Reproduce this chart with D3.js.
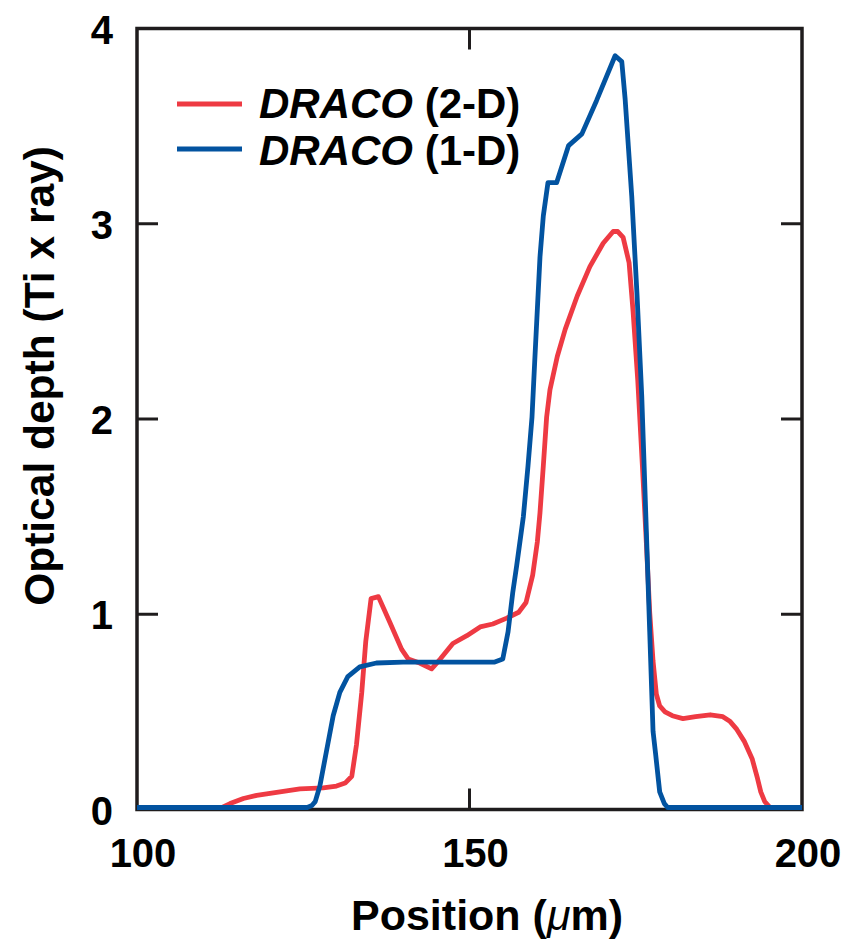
<!DOCTYPE html>
<html>
<head>
<meta charset="utf-8">
<script src="https://cdn.jsdelivr.net/npm/d3@7"></script>
<style>
  html, body { margin: 0; padding: 0; background: #fff; }
  svg { display: block; font-family: "Liberation Sans", Arial, Helvetica, sans-serif; }
</style>
</head>
<body>
<svg id="chart" width="865" height="940"></svg>
<script>
// ---- Data ----
const seriesNames = ["DRACO", "DRACO"];
const seriesSuffix = [" (2-D)", " (1-D)"];
const seriesColors = ["#ee3a43", "#0253a0"];

// DRACO (2-D): position (µm), optical depth
const pos2D = [100, 112.8, 114, 116, 118, 119.5, 122, 124.5, 128, 130, 131.3, 132.3, 133, 133.8, 134.4, 135.2, 136.3, 138, 139.8, 140.8, 142.5, 144.3, 145.6, 147.5, 149.6, 151.6, 153.5, 155.6, 157.4, 158.5, 159.5, 160.2, 160.6, 161.1, 161.6, 162.1, 163.2, 164.4, 166.2, 168.1, 170.1, 171.6, 172.3, 173.1, 174, 174.6, 175.3, 176.0, 176.6, 177.1, 177.6, 178.1, 178.6, 179.4, 180.5, 182.1, 184, 186.2, 188.1, 189.2, 190.2, 191.3, 192.5, 193.3, 193.8, 194.4, 195.2, 200];
const od2D  = [0, 0, 0.02, 0.046, 0.062, 0.07, 0.082, 0.095, 0.10, 0.11, 0.125, 0.16, 0.32, 0.59, 0.85, 1.07, 1.08, 0.95, 0.81, 0.76, 0.74, 0.71, 0.76, 0.84, 0.88, 0.925, 0.94, 0.97, 1.0, 1.05, 1.19, 1.36, 1.51, 1.75, 2.0, 2.14, 2.31, 2.45, 2.62, 2.77, 2.89, 2.95, 2.95, 2.92, 2.79, 2.54, 2.19, 1.75, 1.35, 1.0, 0.75, 0.58, 0.52, 0.49, 0.47, 0.455, 0.465, 0.475, 0.465, 0.44, 0.40, 0.34, 0.25, 0.15, 0.08, 0.03, 0, 0];

// DRACO (1-D)
const pos1D = [100, 125.6, 126.3, 126.8, 127.5, 128.5, 129.5, 130.5, 131.7, 133.5, 136, 140, 153.8, 155, 155.8, 156.5, 157.1, 158.1, 158.8, 159.4, 159.8, 160.6, 161.1, 161.8, 163.1, 164.9, 166.9, 169.1, 171.9, 172.9, 173.4, 174.4, 175.2, 175.9, 176.6, 177.1, 177.6, 178.0, 178.6, 179.3, 179.8, 200];
const od1D  = [0, 0, 0.01, 0.03, 0.11, 0.29, 0.47, 0.59, 0.67, 0.72, 0.74, 0.745, 0.745, 0.76, 0.9, 1.1, 1.24, 1.49, 1.75, 2.0, 2.28, 2.82, 3.03, 3.2, 3.2, 3.39, 3.45, 3.62, 3.85, 3.82, 3.63, 3.13, 2.62, 2.11, 1.41, 0.9, 0.39, 0.27, 0.08, 0.02, 0, 0];

const xTicks = [100, 150, 200];
const yTicks = [0, 1, 2, 3, 4];
const xTitle = "Position (";
const yTitle = "Optical depth (Ti x ray)";

// ---- Layout ----
const svg = d3.select("#chart");
const L = 137, R = 802, T = 28.5, B = 809.5;
const x = d3.scaleLinear().domain([100, 200]).range([L, R]);
const y = d3.scaleLinear().domain([0, 4]).range([B, T]);
const ink = "#1f1c1d";

// tick marks (inward)
const tickLen = 21;
const gT = svg.append("g").attr("stroke", ink).attr("stroke-width", 3);
[150].forEach(v => {
  gT.append("line").attr("x1", x(v)).attr("x2", x(v)).attr("y1", B).attr("y2", B - tickLen);
  gT.append("line").attr("x1", x(v)).attr("x2", x(v)).attr("y1", T).attr("y2", T + tickLen);
});
[1, 2, 3].forEach(v => {
  gT.append("line").attr("x1", L).attr("x2", L + tickLen).attr("y1", y(v)).attr("y2", y(v));
  gT.append("line").attr("x1", R).attr("x2", R - tickLen).attr("y1", y(v)).attr("y2", y(v));
});

// frame
svg.append("rect").attr("x", L).attr("y", T).attr("width", R - L).attr("height", B - T)
  .attr("fill", "none").attr("stroke", ink).attr("stroke-width", 3.5);

// lines
const line = d3.line().x(d => x(d[0])).y(d => y(d[1]) - 2);
const d2 = pos2D.map((p, i) => [p, od2D[i]]);
const d1 = pos1D.map((p, i) => [p, od1D[i]]);
svg.append("path").datum(d2).attr("d", line).attr("fill", "none")
  .attr("stroke", seriesColors[0]).attr("stroke-width", 4.8).attr("stroke-linejoin", "round");
svg.append("path").datum(d1).attr("d", line).attr("fill", "none")
  .attr("stroke", seriesColors[1]).attr("stroke-width", 4.8).attr("stroke-linejoin", "round");

// tick labels
const fs = 40;
svg.append("g").selectAll("text").data(xTicks).join("text")
  .attr("x", d => x(d) + 6).attr("y", 867)
  .attr("text-anchor", "middle").attr("font-size", fs).attr("font-weight", "bold").attr("fill", "#000")
  .text(d => d);
svg.append("g").selectAll("text").data(yTicks).join("text")
  .attr("x", 113).attr("y", d => y(d) + 15)
  .attr("text-anchor", "end").attr("font-size", fs).attr("font-weight", "bold").attr("fill", "#000")
  .text(d => d);

// axis titles
const xt = svg.append("text").attr("x", 487).attr("y", 930).attr("text-anchor", "middle")
  .attr("font-size", 43).attr("font-weight", "bold").attr("fill", "#000");
xt.append("tspan").text(xTitle);
xt.append("tspan").attr("font-style", "italic").attr("font-weight", "normal").text("\u03BC");
xt.append("tspan").text("m)");

svg.append("text").attr("transform", "translate(54,376) rotate(-90)")
  .attr("text-anchor", "middle").attr("font-size", 42.5).attr("font-weight", "bold").attr("fill", "#000")
  .text(yTitle);

// legend
const legY = [104, 149];
const textY = [118, 165];
seriesNames.forEach((n, i) => {
  svg.append("line").attr("x1", 177).attr("x2", 242).attr("y1", legY[i]).attr("y2", legY[i])
    .attr("stroke", seriesColors[i]).attr("stroke-width", 5);
  const t = svg.append("text").attr("x", 259).attr("y", textY[i])
    .attr("font-size", 42).attr("font-weight", "bold").attr("fill", "#000");
  t.append("tspan").attr("font-style", "italic").text(n);
  t.append("tspan").text(seriesSuffix[i]);
});
</script>
</body>
</html>
